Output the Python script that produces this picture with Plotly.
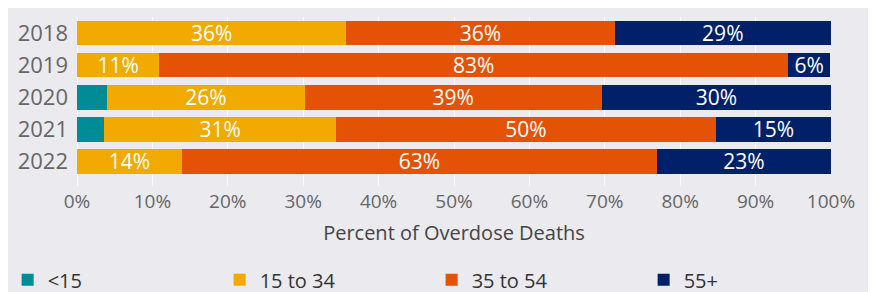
import plotly.graph_objects as go

years = ["2018", "2019", "2020", "2021", "2022"]
series_names = ["<15", "15 to 34", "35 to 54", "55+"]
under15 = [0.0, 0.0, 4.0, 3.6, 0.0]
age15_34 = [35.7, 10.9, 26.2, 30.8, 13.9]
age35_54 = [35.6, 83.4, 39.4, 50.3, 63.0]
age55plus = [28.7, 5.6, 30.4, 15.3, 23.1]
x_ticks = [0, 10, 20, 30, 40, 50, 60, 70, 80, 90, 100]
x_tick_labels = ["0%", "10%", "20%", "30%", "40%", "50%", "60%", "70%", "80%", "90%", "100%"]

colors = ["#008C95", "#F2A900", "#E35205", "#002169"]
legend_groups = ["legend", "legend", "legend2", "legend2"]
bg = "#EAEAEF"
font_family = "Open Sans"

fig = go.Figure()
for name, vals, col, lg in zip(series_names, [under15, age15_34, age35_54, age55plus], colors, legend_groups):
    labels = [f"{round(v)}%" if v >= 5 else "" for v in vals]
    fig.add_trace(go.Bar(
        y=years, x=vals, name=name, orientation="h",
        marker=dict(color=col, line=dict(width=0)),
        text=labels, textposition="inside", insidetextanchor="middle",
        textangle=0, constraintext="none",
        textfont=dict(color="white", size=21, family=font_family),
        hoverinfo="skip", legend=lg,
    ))

legend_style = dict(
    orientation="h", xanchor="left", yanchor="top", y=-0.44,
    entrywidth=167, entrywidthmode="pixels",
    font=dict(size=20, color="#333333", family=font_family),
    traceorder="normal", bgcolor="rgba(0,0,0,0)",
)

fig.update_layout(
    barmode="stack",
    bargap=0.22,
    width=876, height=292,
    margin=dict(l=69, r=53, t=9, b=114, autoexpand=False),
    paper_bgcolor=bg, plot_bgcolor=bg,
    font=dict(family=font_family, color="#555555"),
    showlegend=True,
    legend=dict(x=-0.092, **legend_style),
    legend2=dict(x=-0.092 + 424 / 754, **legend_style),
    xaxis=dict(
        range=[0, 100], tickvals=x_ticks, ticktext=x_tick_labels,
        showgrid=True, gridcolor="rgba(255,255,255,0.8)", gridwidth=1,
        zeroline=True, zerolinecolor="white", zerolinewidth=1,
        tickfont=dict(size=19, color="#666666"),
        ticks="", ticklabelstandoff=2,
        title=dict(text="Percent of Overdose Deaths", standoff=12,
                   font=dict(size=20, color="#444444")),
        fixedrange=True,
    ),
    yaxis=dict(
        type="category", range=[4.78, -0.5],
        showgrid=False, tickfont=dict(size=22, color="#666666"),
        ticks="", ticklabelstandoff=8,
    ),
)

fig.write_html("out.html")
